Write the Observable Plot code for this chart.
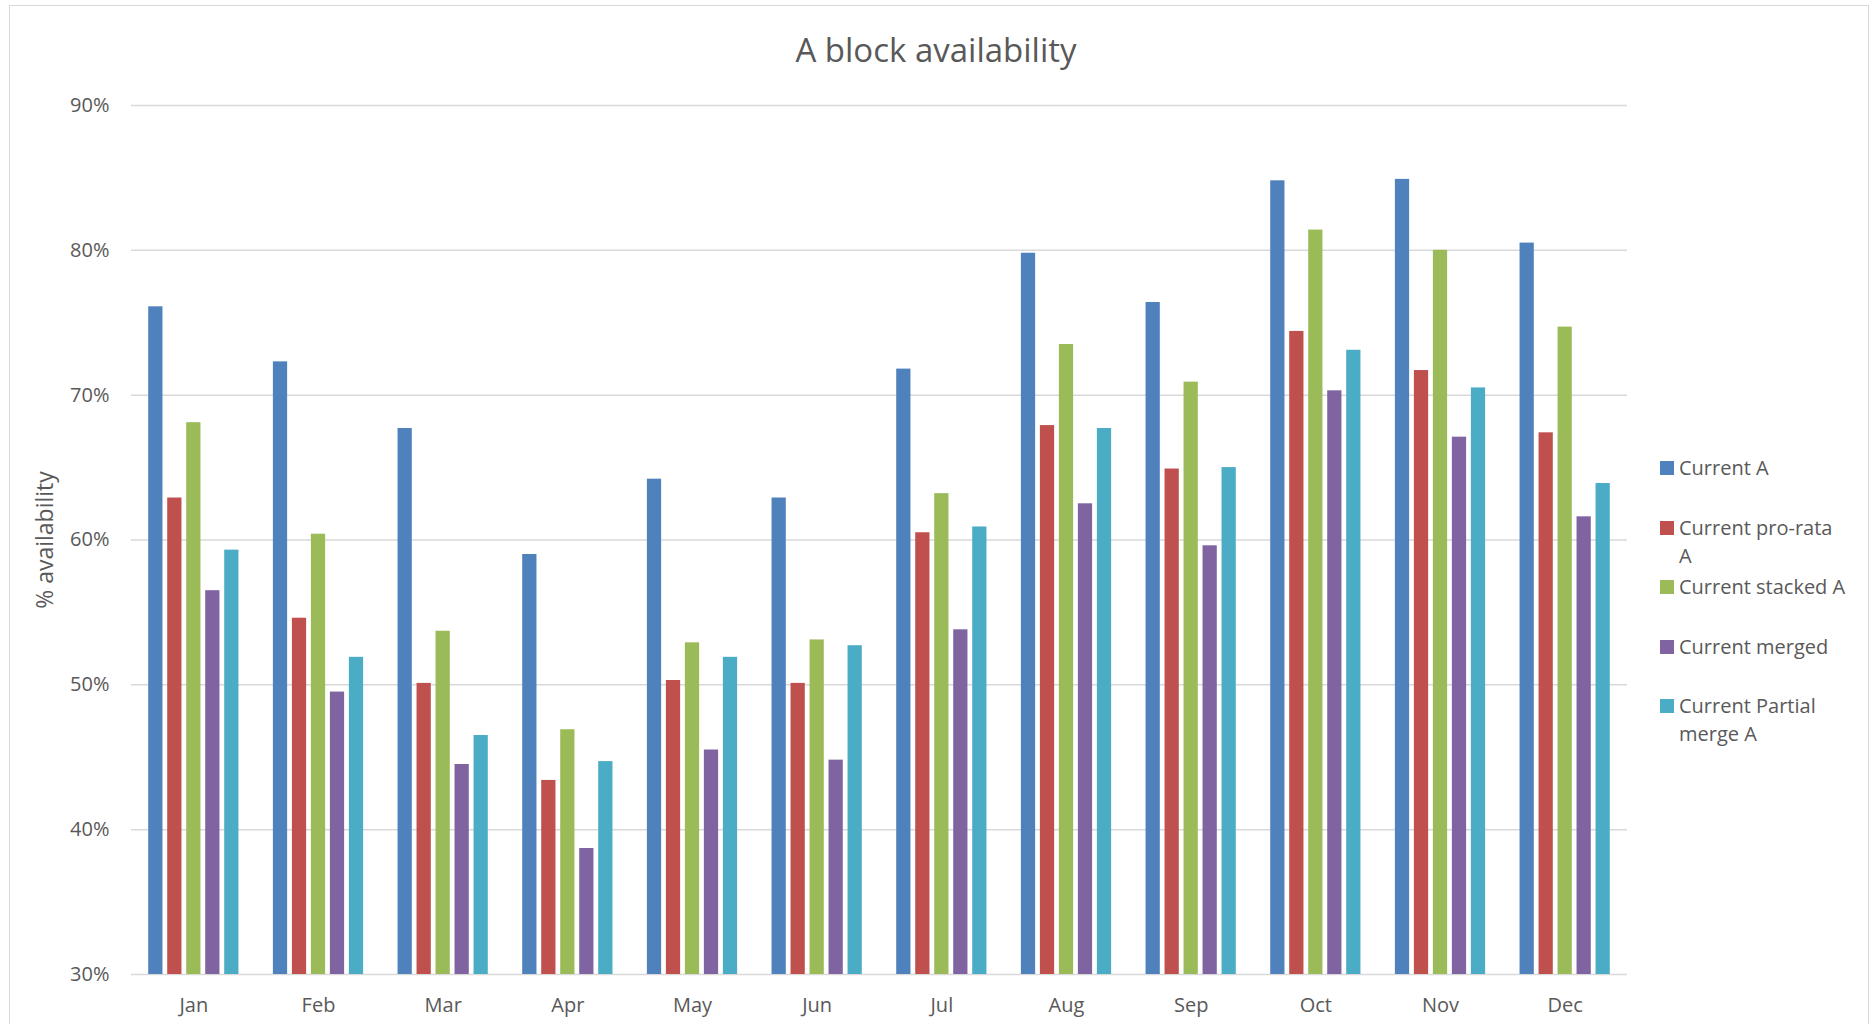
<!DOCTYPE html>
<html>
<head>
<meta charset="utf-8">
<script src="https://cdn.jsdelivr.net/npm/d3@7"></script>
<script src="https://cdn.jsdelivr.net/npm/@observablehq/plot@0.6"></script>
<style>
  html, body { margin: 0; padding: 0; background: #fff; }
  body { width: 1872px; height: 1024px; position: relative; overflow: hidden; font-family: "Open Sans", sans-serif; color: #595959; }
  #frame { position: absolute; left: 9px; top: 5px; width: 1860px; height: 1100px; border: 1.5px solid #d9d9d9; box-sizing: border-box; }
  #title { position: absolute; left: 0; top: 28px; width: 1872px; text-align: center; font-size: 33px; line-height: 44px; color: #595959; }
  #ylabel { position: absolute; left: 44px; top: 540px; transform: translate(-50%, -50%) rotate(-90deg); font-size: 23px; white-space: nowrap; color: #595959; }
  .layer { position: absolute; left: 0; top: 0; }
  .leg { position: absolute; left: 1660px; font-size: 20px; line-height: 28px; color: #595959; white-space: nowrap; }
  .leg .sw { position: absolute; left: 0; top: 7px; width: 14px; height: 14px; }
  .leg .tx { position: absolute; left: 19px; top: 0; }
</style>
</head>
<body>
<div id="frame"></div>
<div id="title">A block availability</div>
<div id="ylabel">% availability</div>
<div id="grid" class="layer"></div>
<div id="bars" class="layer"></div>
<div id="legend"></div>
<script>
const months = ["Jan","Feb","Mar","Apr","May","Jun","Jul","Aug","Sep","Oct","Nov","Dec"];
const series = ["Current A","Current pro-rata A","Current stacked A","Current merged","Current Partial merge A"];
const legendLabels = ["Current A","Current pro-rata<br>A","Current stacked A","Current merged","Current Partial<br>merge A"];
const colors = ["#4F81BD","#C0504D","#9BBB59","#8064A2","#4BACC6"];

const currentA        = [76.1, 72.3, 67.7, 59.0, 64.2, 62.9, 71.8, 79.8, 76.4, 84.8, 84.9, 80.5];
const currentProRataA = [62.9, 54.6, 50.1, 43.4, 50.3, 50.1, 60.5, 67.9, 64.9, 74.4, 71.7, 67.4];
const currentStackedA = [68.1, 60.4, 53.7, 46.9, 52.9, 53.1, 63.2, 73.5, 70.9, 81.4, 80.0, 74.7];
const currentMerged   = [56.5, 49.5, 44.5, 38.7, 45.5, 44.8, 53.8, 62.5, 59.6, 70.3, 67.1, 61.6];
const currentPartialA = [59.3, 51.9, 46.5, 44.7, 51.9, 52.7, 60.9, 67.7, 65.0, 73.1, 70.5, 63.9];

const yTicks = [30, 40, 50, 60, 70, 80, 90];
const baseline = 30;

const seriesValues = [currentA, currentProRataA, currentStackedA, currentMerged, currentPartialA];
const data = [];
months.forEach((m, i) => {
  series.forEach((s, j) => {
    data.push({month: m, series: s, value: seriesValues[j][i]});
  });
});

const common = {
  width: 1640,
  height: 1024,
  marginLeft: 131,
  marginRight: 13,
  marginTop: 105,
  marginBottom: 50,
  style: {fontFamily: "Open Sans", fontSize: "20px", color: "#595959", background: "transparent"}
};

// Background layer: continuous gridlines and y axis labels
const gridChart = Plot.plot({
  ...common,
  x: {axis: null, domain: [0, 1]},
  y: {domain: [30, 90], ticks: yTicks, tickFormat: d => d + "%", tickSize: 0, tickPadding: 22, label: null},
  marks: [
    Plot.ruleY(yTicks, {y: d => d, stroke: "#d9d9d9", strokeWidth: 1.5})
  ]
});
document.getElementById("grid").appendChild(gridChart);

// Foreground layer: grouped bars and month labels
const barChart = Plot.plot({
  ...common,
  fx: {domain: months, paddingInner: 0.2, paddingOuter: 0.1, round: false, axis: "bottom", tickSize: 0, tickPadding: 23, label: null},
  x: {domain: series, padding: 0.25, round: false, axis: null},
  y: {domain: [30, 90], axis: null},
  color: {domain: series, range: colors},
  marks: [
    Plot.barY(data, {fx: "month", x: "series", y1: baseline, y2: "value", fill: "series"})
  ]
});
document.getElementById("bars").appendChild(barChart);

const legend = document.getElementById("legend");
series.forEach((s, i) => {
  const el = document.createElement("div");
  el.className = "leg";
  el.style.top = (454 + i * 59.5) + "px";
  el.innerHTML = `<div class="sw" style="background:${colors[i]}"></div><div class="tx">${legendLabels[i]}</div>`;
  legend.appendChild(el);
});
</script>
</body>
</html>
